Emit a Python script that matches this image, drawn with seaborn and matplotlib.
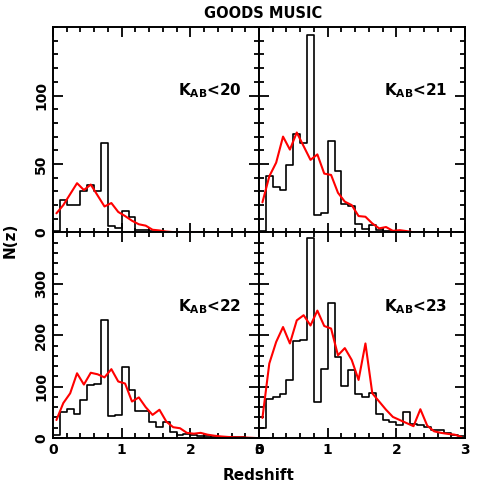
import numpy as np
import pandas as pd
import matplotlib
matplotlib.use("Agg")
import matplotlib.pyplot as plt
import seaborn as sns
from matplotlib.ticker import MultipleLocator

# ---------------- data ----------------
bin_edges = [round(0.1 * i, 1) for i in range(31)]

k20_hist = [1, 24, 20, 20, 30, 35, 30, 65, 5, 3,
            16, 11, 2, 2, 1, 1, 0, 0, 0, 0,
            0, 0, 0, 0, 0, 0, 0, 0, 0, 0]
k20_model = [14, 20, 28, 36, 31, 35, 27, 19, 21.5, 15,
             12, 8.6, 6, 5, 2, 1.5, 0.7, 0.3, 0.1, 0,
             0, 0, 0, 0, 0, 0, 0, 0, 0, 0]

k21_hist = [1, 41, 33, 31, 49, 72, 65, 144, 13, 14.5,
            67, 45, 21, 19, 6, 2.5, 5.4, 2, 1, 1,
            0, 0, 0, 0, 0, 0, 0, 0, 0, 0]
k21_model = [22, 41, 51, 70, 60.5, 73, 63, 53, 57, 43,
             42, 29, 22.5, 20, 12, 11.5, 6.6, 3, 4, 1.2,
             1.7, 1, 0.2, 0, 0, 0, 0, 0, 0, 0]

k22_hist = [6.5, 50, 57, 47, 74, 103, 106, 229, 42, 44,
            139, 94, 53, 52, 32, 22, 32, 12, 6.5, 8,
            5, 4.5, 3, 2.5, 2, 1, 1, 1, 0, 0]
k22_model = [35, 68, 87, 126, 104, 127, 124, 118, 134, 110,
             106, 71, 79, 60, 45, 55, 32, 21, 19, 10,
             8.4, 10, 6.5, 4.5, 3, 2, 1.3, 1.3, 0.6, 0]

k23_hist = [19, 76, 79, 86, 113, 189, 190, 390, 70, 134,
            263, 158, 101, 132, 85, 79, 88, 46, 35, 32,
            26, 50, 28, 26, 21, 16, 16, 10, 6.5, 4.5]
k23_model = [39, 145, 187, 216, 184, 229, 239, 219, 248, 218,
             213, 161, 175, 152, 113, 184, 87, 71, 55, 41,
             35, 29, 23, 56, 24, 13, 10, 8, 6.5, 2]

panel_labels = ["20", "21", "22", "23"]
x_ticks = [0, 1, 2, 3]
top_yticks = [0, 50, 100]
bottom_yticks = [0, 100, 200, 300]

# ---------------- style ----------------
sns.set_style("ticks")
plt.rcParams["font.family"] = ["DejaVu Sans"]
plt.rcParams["font.weight"] = "bold"
plt.rcParams["mathtext.fontset"] = "dejavusans"
plt.rcParams["text.color"] = "black"
plt.rcParams["axes.labelcolor"] = "black"
plt.rcParams["xtick.color"] = "black"
plt.rcParams["ytick.color"] = "black"

fig = plt.figure(figsize=(4.91, 4.91), dpi=100)
W = H = 491.0
x0, xm, x1 = 53, 259, 465
y0, ym, y1 = 27, 232.5, 438

def rect(l, r, t, b):
    return [l / W, 1 - b / H, (r - l) / W, (b - t) / H]

axes = [
    fig.add_axes(rect(x0, xm, y0, ym)),
    fig.add_axes(rect(xm, x1, y0, ym)),
    fig.add_axes(rect(x0, xm, ym, y1)),
    fig.add_axes(rect(xm, x1, ym, y1)),
]

hists = [k20_hist, k21_hist, k22_hist, k23_hist]
models = [k20_model, k21_model, k22_model, k23_model]
edges = np.array(bin_edges)
centers = (edges[:-1] + edges[1:]) / 2

for i, ax in enumerate(axes):
    df = pd.DataFrame({"z": centers, "n": hists[i], "m": models[i]})
    sns.histplot(data=df, x="z", weights="n", bins=list(bin_edges), element="step",
                 fill=False, color="black", linewidth=1.2, ax=ax)
    sns.lineplot(data=df, x="z", y="m", color="#ff0000", linewidth=1.5, ax=ax)
    ax.set_xlim(0, 3)
    top = i < 2
    ax.set_ylim(0, 150 if top else 400)
    ax.set_xlabel("")
    ax.set_ylabel("")
    ax.xaxis.set_major_locator(MultipleLocator(1))
    ax.xaxis.set_minor_locator(MultipleLocator(0.2))
    if top:
        ax.yaxis.set_major_locator(MultipleLocator(50))
        ax.yaxis.set_minor_locator(MultipleLocator(10))
    else:
        ax.yaxis.set_major_locator(MultipleLocator(100))
        ax.yaxis.set_minor_locator(MultipleLocator(20))
    ax.tick_params(which="both", direction="in", top=True, right=True,
                   width=1.3, colors="black", labelsize=10)
    ax.tick_params(which="major", length=7)
    ax.tick_params(which="minor", length=3.5)
    for s in ax.spines.values():
        s.set_linewidth(1.4)
        s.set_color("black")
    if top:
        ax.set_xticklabels([])
    else:
        ax.set_xticks(x_ticks)
        ax.set_xticklabels([str(v) for v in x_ticks], fontweight="bold",
                           color="black")
    if i in (1, 3):
        ax.set_yticklabels([])
    else:
        yt = top_yticks if top else bottom_yticks
        ax.set_yticks(yt)
        ax.set_yticklabels([str(v) for v in yt], rotation=90, va="center",
                           fontweight="bold", color="black")
    ax.text(1.82, 0.69 if top else 0.64,
            r"K$_{\mathbf{AB}}$<" + panel_labels[i],
            transform=ax.get_xaxis_transform(), fontsize=11, color="black",
            fontweight="bold", va="center", ha="left")

fig.text(263 / W, 1 - 13 / H, "GOODS MUSIC", ha="center", va="center",
         fontsize=10.5, fontweight="bold", color="black")
fig.text(259 / W, 1 - 476 / H, "Redshift", ha="center", va="center",
         fontsize=11, fontweight="bold", color="black")
fig.text(10 / W, 1 - 240 / H, "N(z)", ha="center", va="center",
         rotation=90, fontsize=11, fontweight="bold", color="black")

fig.savefig("out.png", dpi=100)
